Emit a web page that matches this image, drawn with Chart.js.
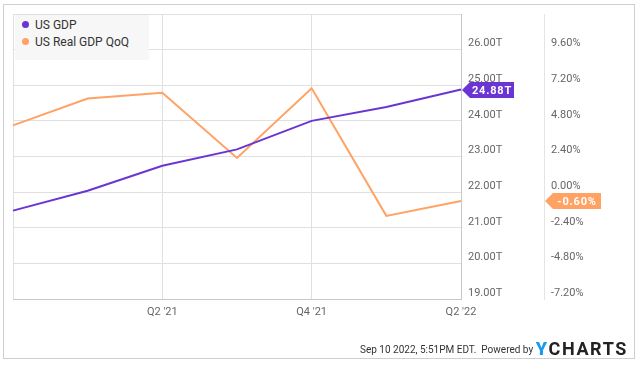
<!DOCTYPE html>
<html>
<head>
<meta charset="utf-8">
<script src="https://cdn.jsdelivr.net/npm/chart.js@4.4.1/dist/chart.umd.min.js"></script>
<style>
  html, body { margin: 0; padding: 0; background: #fff; }
  body { width: 640px; height: 367px; position: relative; overflow: hidden; font-family: Roboto, sans-serif; }
  #frame { position: absolute; left: 3px; top: 4px; width: 632px; height: 355px; border: 1px solid #cfcfcf; box-sizing: border-box; }
  #chart { position: absolute; left: 0; top: 0; }
  #legend { position: absolute; left: 15px; top: 15px; width: 134px; height: 45px; background: #f7f7f7; font-size: 12px; color: #333; }
  #legend div { position: absolute; left: 7px; white-space: nowrap; }
  #legend span { display: inline-block; width: 7px; height: 7px; border-radius: 50%; margin-right: 6px; vertical-align: 1px; }
  #footer { position: absolute; right: 12px; top: 338px; font-size: 10px; color: #333; white-space: nowrap; }
  #footer .logo { font-size: 18px; font-weight: bold; letter-spacing: 1.6px; color: #222; vertical-align: -2px; }
  #footer .logo b { color: #1a9bf0; }
</style>
</head>
<body>
<div id="frame"></div>
<canvas id="chart" width="640" height="367"></canvas>
<div id="legend"></div>
<div id="footer">Sep 10 2022, 5:51PM EDT. &nbsp;Powered by <span class="logo"><b>Y</b>CHARTS</span></div>
<script>
// quarters, Q4 '20 to Q2 '22
const quarters = ["Q4 '20", "Q1 '21", "Q2 '21", "Q3 '21", "Q4 '21", "Q1 '22", "Q2 '22"];
const shownQuarters = ["Q2 '21", "Q4 '21", "Q2 '22"];
// US GDP, trillions USD
const usGdp = [21.48, 22.04, 22.74, 23.20, 24.00, 24.39, 24.88];
// US Real GDP QoQ, annualized %
const realGdpQoq = [4.5, 6.3, 6.7, 2.3, 7.0, -1.6, -0.6];

const purple = '#6a35d2';
const orange = '#ffa264';
const gridColor = '#e0e0e0';

// legend
const legend = document.getElementById('legend');
[['US GDP', purple], ['US Real GDP QoQ', orange]].forEach(function(item, i) {
    const row = document.createElement('div');
    row.style.top = (3 + i * 17) + 'px';
    row.innerHTML = '<span style="background:' + item[1] + '"></span>' + item[0];
    legend.appendChild(row);
});

// last value tags on the right axes
const lastTags = {
    id: 'lastTags',
    afterDraw(chart) {
        const ctx = chart.ctx;
        const tags = [
            { axis: 'y', data: usGdp, color: purple, text: v => v.toFixed(2) + 'T', w: 44 },
            { axis: 'y1', data: realGdpQoq, color: orange, text: v => v.toFixed(2) + '%', w: 48 }
        ];
        tags.forEach(function(t) {
            const scale = chart.scales[t.axis];
            const v = t.data[t.data.length - 1];
            const y = Math.round(scale.getPixelForValue(v));
            const x0 = scale.left + 1;
            const h = 16;
            ctx.save();
            ctx.fillStyle = t.color;
            ctx.beginPath();
            ctx.moveTo(x0, y);
            ctx.lineTo(x0 + 8, y - h / 2);
            ctx.lineTo(x0 + 8 + t.w, y - h / 2);
            ctx.lineTo(x0 + 8 + t.w, y + h / 2);
            ctx.lineTo(x0 + 8, y + h / 2);
            ctx.closePath();
            ctx.fill();
            ctx.fillStyle = '#fff';
            ctx.font = 'bold 11px Roboto';
            ctx.letterSpacing = '0.8px';
            ctx.textAlign = 'center';
            ctx.textBaseline = 'middle';
            ctx.fillText(t.text(v), x0 + 8 + t.w / 2, y + 1);
            ctx.restore();
        });
    }
};

new Chart(document.getElementById('chart'), {
    type: 'line',
    data: {
        labels: quarters,
        datasets: [
            { label: 'US GDP', data: usGdp, yAxisID: 'y', borderColor: purple, borderWidth: 2, pointRadius: 0, tension: 0 },
            { label: 'US Real GDP QoQ', data: realGdpQoq, yAxisID: 'y1', borderColor: orange, borderWidth: 2, pointRadius: 0, tension: 0 }
        ]
    },
    options: {
        responsive: false,
        animation: false,
        events: [],
        layout: { padding: { left: 13, top: 14, right: 0, bottom: 43 } },
        plugins: { legend: { display: false }, tooltip: { enabled: false } },
        scales: {
            x: {
                offset: false,
                grid: {
                    color: c => (c.index === 0 || shownQuarters.includes(quarters[c.index])) ? gridColor : 'rgba(0,0,0,0)',
                    drawTicks: false
                },
                border: { color: '#c8c8c8' },
                ticks: {
                    autoSkip: false,
                    maxRotation: 0,
                    padding: 7,
                    color: '#666',
                    font: { family: 'Roboto', size: 11 },
                    callback: function(v, i) { return shownQuarters.includes(quarters[i]) ? quarters[i] : ''; }
                },
                afterFit: s => { s.height = 25; }
            },
            y: {
                position: 'right',
                min: 19, max: 27,
                grid: { color: gridColor, lineWidth: 1, drawTicks: false },
                border: { color: '#c8c8c8' },
                ticks: {
                    stepSize: 1,
                    padding: 7,
                    labelOffset: -6,
                    color: '#666',
                    font: { family: 'Roboto', size: 11 },
                    callback: v => v >= 27 ? '' : v.toFixed(2) + 'T'
                },
                afterFit: s => { s.width = 83; }
            },
            y1: {
                position: 'right',
                min: -7.2, max: 12,
                grid: { display: false, drawTicks: false },
                border: { color: '#e4e4e4' },
                ticks: {
                    stepSize: 2.4,
                    padding: 7,
                    labelOffset: -6,
                    color: '#666',
                    font: { family: 'Roboto', size: 11 },
                    callback: v => v >= 11.9 ? '' : v.toFixed(2) + '%'
                },
                afterFit: s => { s.width = 96; }
            }
        }
    },
    plugins: [lastTags]
});
</script>
</body>
</html>
